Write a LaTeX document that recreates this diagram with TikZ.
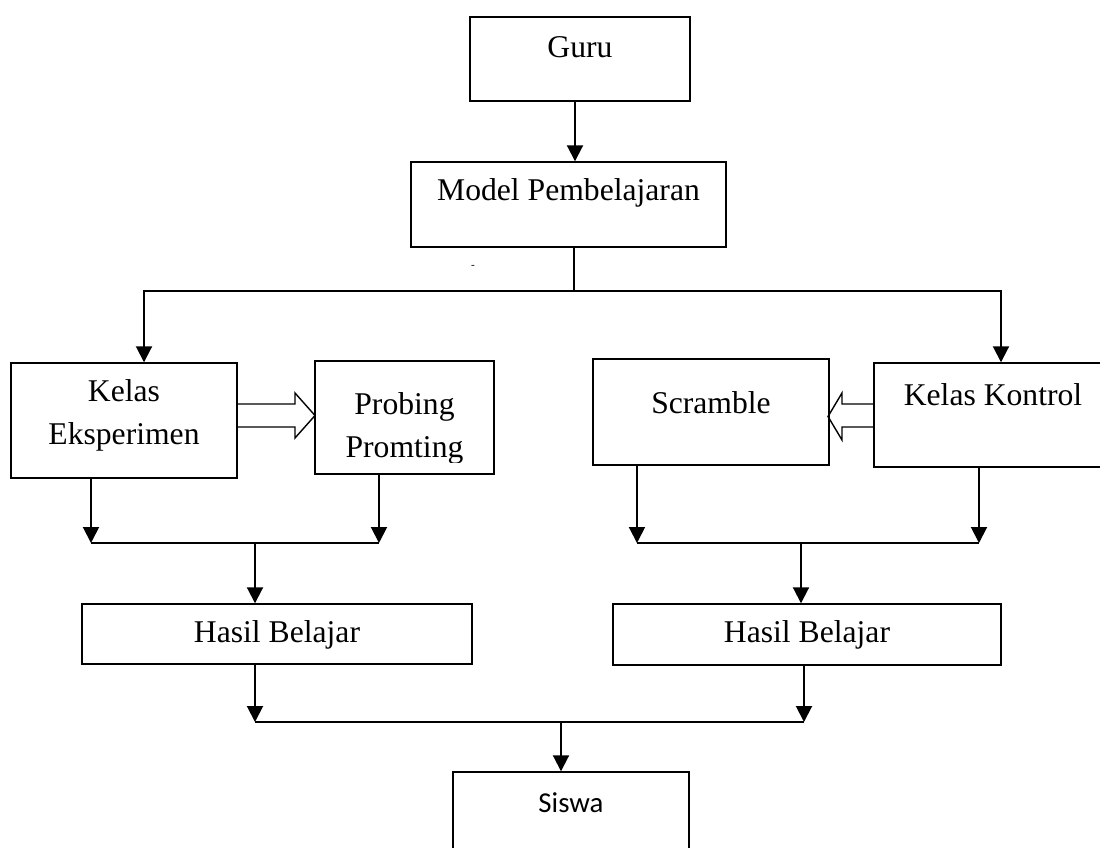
\documentclass[tikz,border=0pt]{standalone}
\usepackage{fontspec}
\setmainfont{Liberation Serif}
\newfontfamily\calibri{Carlito}
\usetikzlibrary{arrows.meta}

\begin{document}
\begin{tikzpicture}[x=0.025cm, y=-0.025cm,
    box/.style={draw, line width=1pt, inner sep=0pt},
    lbl/.style={font=\fontsize{22.5}{31}\selectfont, align=center, inner sep=0pt},
    arr/.style={line width=1.4pt, -{Triangle[length=0.4cm, width=0.4cm]}},
    joint/.style={line width=1.4pt},
    hollow/.style={line width=1pt, line join=miter}]
    \useasboundingbox (0,0) rectangle (1100,848);

    \node[box, minimum width=5.5cm, minimum height=2.1cm] (guru) at (580,59) {};
    \node[lbl] (guru-t) at (580,47) {Guru};
    \node[box, minimum width=7.875cm, minimum height=2.125cm] (model) at (568.5,204.5) {};
    \node[lbl] (model-t) at (568.5,193) {Model Pembelajaran};
    \node[font=\fontsize{8}{8}\selectfont, inner sep=0pt] (dash) at (473,267) {-};

    \node[box, minimum width=5.65cm, minimum height=2.875cm] (eks) at (124,420.5) {};
    \node[lbl] (eks-t) at (124,415.5) {Kelas\\Eksperimen};
    \node[box, minimum width=4.475cm, minimum height=2.825cm] (prob) at (404.5,417.5) {};
    \begin{scope}
      \clip (315,361) rectangle (494,462);
      \node[lbl] (prob-t) at (404.5,428.5) {Probing\\Promting};
    \end{scope}
    \node[box, minimum width=5.9cm, minimum height=2.65cm] (scr) at (711,412) {};
    \node[lbl] (scr-t) at (711,403) {Scramble};
    \node[box, minimum width=5.95cm, minimum height=2.6cm] (kon) at (993,415) {};
    \node[lbl] (kon-t) at (993,395) {Kelas Kontrol};

    \node[box, minimum width=9.75cm, minimum height=1.5cm] (hasil1) at (277,634) {};
    \node[lbl] (hasil1-t) at (277,635) {Hasil Belajar};
    \node[box, minimum width=9.7cm, minimum height=1.525cm] (hasil2) at (807,634.5) {};
    \node[lbl] (hasil2-t) at (807,635) {Hasil Belajar};
    \node[box, minimum width=5.9cm, minimum height=2.45cm] (siswa) at (571,821) {};
    \node[lbl, font=\calibri\fontsize{20.5}{25}\selectfont] (siswa-t) at (571,803) {Siswa};

    \coordinate (j0) at (574,291);
    \coordinate (j1) at (255,543);
    \coordinate (j2) at (801,543);
    \coordinate (j3) at (561,722);

    \draw[arr] ([xshift=-0.125cm]guru.south) -- ([xshift=-0.125cm]guru.south |- model.north);
    \draw[joint] (model.south -| j0) -- (j0);
    \draw[arr] (j0) -| ([xshift=0.5cm]eks.north);
    \draw[arr] (j0) -| ([xshift=0.2cm]kon.north);

    \draw[hollow] (237,404) -- (295,404) -- (295,393) -- (315,415.5) -- (295,438) -- (295,427) -- (237,427);
    \draw[hollow] (874,404) -- (842,404) -- (842,393) -- (828,416.5) -- (842,440) -- (842,427) -- (874,427);

    \draw[arr] ([xshift=-0.825cm]eks.south) -- ([xshift=-0.825cm]eks.south |- j1);
    \draw[arr] ([xshift=-0.6375cm]prob.south) -- ([xshift=-0.6375cm]prob.south |- j1);
    \draw[joint] ([xshift=-0.825cm]eks.south |- j1) -- ([xshift=-0.6375cm]prob.south |- j1);
    \draw[arr] (j1) -- (j1 |- hasil1.north);

    \draw[arr] ([xshift=-1.85cm]scr.south) -- ([xshift=-1.85cm]scr.south |- j2);
    \draw[arr] ([xshift=-0.35cm]kon.south) -- ([xshift=-0.35cm]kon.south |- j2);
    \draw[joint] ([xshift=-1.85cm]scr.south |- j2) -- ([xshift=-0.35cm]kon.south |- j2);
    \draw[arr] (j2) -- (j2 |- hasil2.north);

    \draw[arr] ([xshift=-0.55cm]hasil1.south) -- ([xshift=-0.55cm]hasil1.south |- j3);
    \draw[arr] ([xshift=-0.075cm]hasil2.south) -- ([xshift=-0.075cm]hasil2.south |- j3);
    \draw[joint] ([xshift=-0.55cm]hasil1.south |- j3) -- ([xshift=-0.075cm]hasil2.south |- j3);
    \draw[arr] (j3) -- (j3 |- siswa.north);
\end{tikzpicture}
\end{document}
